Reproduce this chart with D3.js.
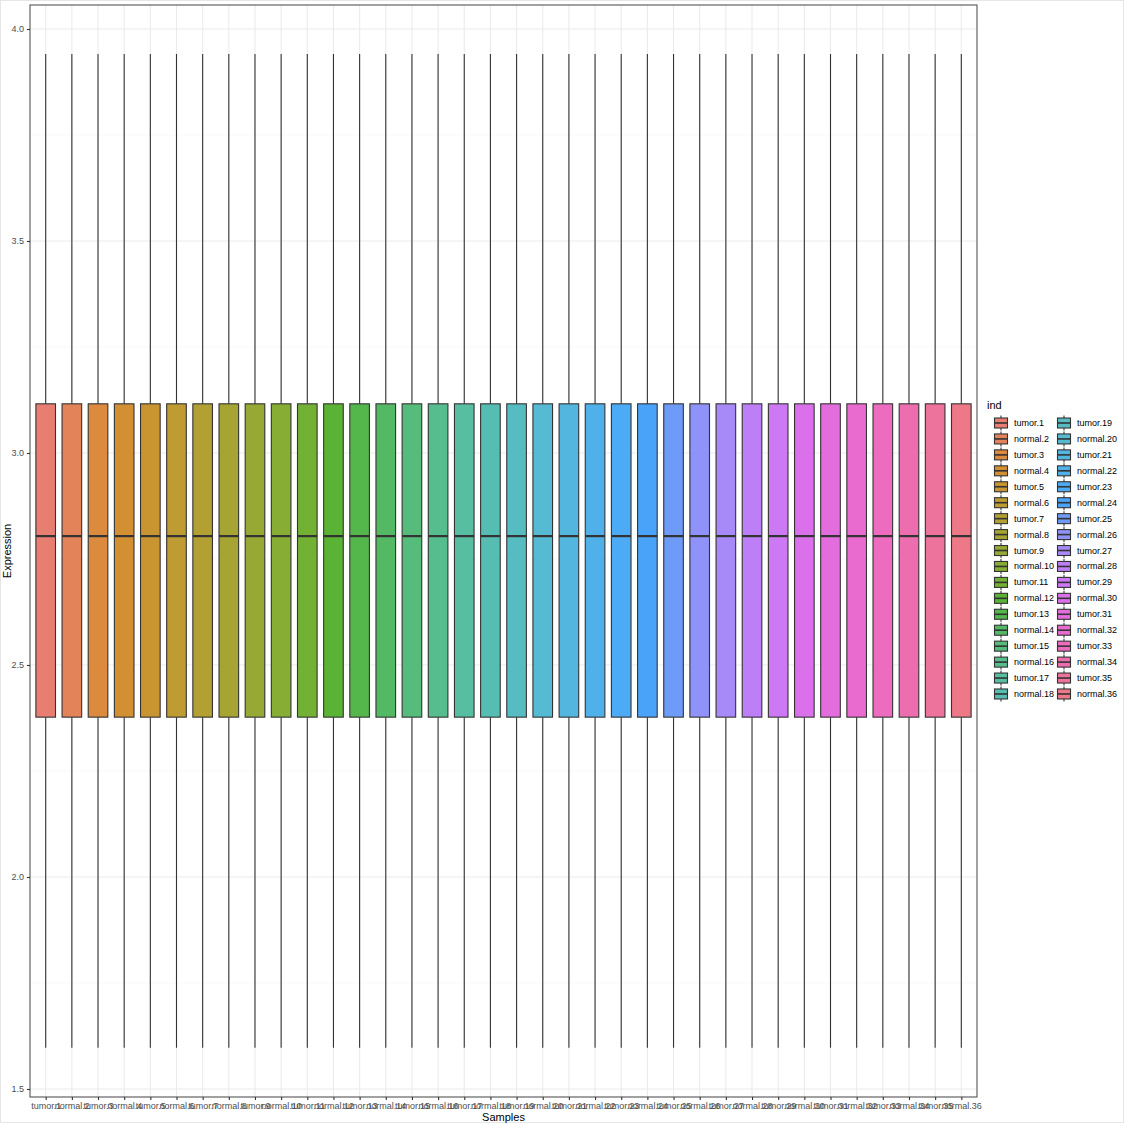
<!DOCTYPE html>
<html><head><meta charset="utf-8">
<script src="https://cdn.jsdelivr.net/npm/d3@7"></script>
<style>body{margin:0;background:#fff}svg{display:block}text{font-family:"Liberation Sans",Arial,sans-serif}</style>
</head><body><svg id="c" width="1124" height="1123"></svg>
<script>
const samples = ["tumor.1","normal.2","tumor.3","normal.4","tumor.5","normal.6","tumor.7","normal.8","tumor.9","normal.10","tumor.11","normal.12","tumor.13","normal.14","tumor.15","normal.16","tumor.17","normal.18","tumor.19","normal.20","tumor.21","normal.22","tumor.23","normal.24","tumor.25","normal.26","tumor.27","normal.28","tumor.29","normal.30","tumor.31","normal.32","tumor.33","normal.34","tumor.35","normal.36"];
const whiskerLow = Array(36).fill(1.597);
const q1 = Array(36).fill(2.377);
const median = Array(36).fill(2.804);
const q3 = Array(36).fill(3.116);
const whiskerHigh = Array(36).fill(3.941);
const yTicks = [1.5, 2.0, 2.5, 3.0, 3.5, 4.0];
const yMinor = [1.75, 2.25, 2.75, 3.25, 3.75];

// ggplot2 hue palette (polarLUV -> sRGB), then as rendered in the reference (P3-tagged screenshot)
function hclLuv(h, c, l) {
  const Xn = 95.047, Yn = 100.0, Zn = 108.883;
  const hr = h * Math.PI / 180;
  const U = c * Math.cos(hr), V = c * Math.sin(hr);
  const Y = Yn * (l > 8 ? Math.pow((l + 16) / 116, 3) : l / 903.3);
  const t = Xn + Yn + Zn;
  const x = Xn / t, y = Yn / t;
  const un = 2 * x / (6 * y - x + 1.5), vn = 4.5 * y / (6 * y - x + 1.5);
  const u = U / (13 * l) + un, v = V / (13 * l) + vn;
  const X = 9.0 * Y * u / (4 * v);
  const Z = -X / 3 - 5 * Y + 3 * Y / v;
  const clamp = c => Math.max(0, Math.min(1, c));
  const lr = clamp((3.240479 * X - 1.537150 * Y - 0.498535 * Z) / 100);
  const lg = clamp((-0.969256 * X + 1.875992 * Y + 0.041556 * Z) / 100);
  const lb = clamp((0.055648 * X - 0.204043 * Y + 1.057311 * Z) / 100);
  // ggplot gamma-encodes to sRGB 0..255 (rounded)
  const enc = c => c > 0.0031308 ? 1.055 * Math.pow(c, 1 / 2.4) - 0.055 : 12.92 * c;
  const dec = c => c > 0.04045 ? Math.pow((c + 0.055) / 1.055, 2.4) : c / 12.92;
  const r8 = Math.round(255 * enc(lr)) / 255, g8 = Math.round(255 * enc(lg)) / 255, b8 = Math.round(255 * enc(lb)) / 255;
  const R = dec(r8), G = dec(g8), B = dec(b8);
  const pr = 0.8225 * R + 0.1774 * G;
  const pg = 0.0332 * R + 0.9669 * G;
  const pb = 0.0171 * R + 0.0724 * G + 0.9108 * B;
  return d3.rgb(Math.round(255 * enc(clamp(pr))), Math.round(255 * enc(clamp(pg))), Math.round(255 * enc(clamp(pb)))).formatHex();
}
const colors = samples.map((s, i) => hclLuv(15 + 360 * i / 36, 100, 65));

const svg = d3.select("#c");
svg.append("rect").attr("x",0.5).attr("y",0.5).attr("width",1123).attr("height",1122).attr("fill","#fff").attr("stroke","#e6e6e6");

const P = {l: 30, r: 977, t: 5, b: 1097};
const xp = d3.scalePoint().domain(samples).range([P.l, P.r]).padding(0.6);
const step = xp.step();
const bw = step * 0.75;
const y = d3.scaleLinear().domain([1.5, 4.0]).range([1089, 29]);

const g = svg.append("g");
g.append("rect").attr("x",P.l).attr("y",P.t).attr("width",P.r-P.l).attr("height",P.b-P.t).attr("fill","#fff");
g.selectAll(".ymin").data(yMinor).join("line").attr("x1",P.l).attr("x2",P.r).attr("y1",d=>y(d)).attr("y2",d=>y(d)).attr("stroke","#F5F5F5").attr("stroke-width",0.6);
g.selectAll(".ymaj").data(yTicks).join("line").attr("x1",P.l).attr("x2",P.r).attr("y1",d=>y(d)).attr("y2",d=>y(d)).attr("stroke","#EBEBEB").attr("stroke-width",1.1);
g.selectAll(".xmaj").data(samples).join("line").attr("y1",P.t).attr("y2",P.b).attr("x1",d=>xp(d)).attr("x2",d=>xp(d)).attr("stroke","#EBEBEB").attr("stroke-width",1.1);

const bx = g.append("g");
samples.forEach((s, i) => {
  const cx = xp(s);
  bx.append("line").attr("x1",cx).attr("x2",cx).attr("y1",y(whiskerHigh[i])).attr("y2",y(q3[i])).attr("stroke","#333333").attr("stroke-width",1.1);
  bx.append("line").attr("x1",cx).attr("x2",cx).attr("y1",y(q1[i])).attr("y2",y(whiskerLow[i])).attr("stroke","#333333").attr("stroke-width",1.1);
  bx.append("rect").attr("x",cx-bw/2).attr("width",bw).attr("y",y(q3[i])).attr("height",y(q1[i])-y(q3[i]))
    .attr("fill",colors[i]).attr("stroke","#333333").attr("stroke-width",1.1);
  bx.append("line").attr("x1",cx-bw/2).attr("x2",cx+bw/2).attr("y1",y(median[i])).attr("y2",y(median[i])).attr("stroke","#333333").attr("stroke-width",2.2);
});

g.append("rect").attr("x",P.l).attr("y",P.t).attr("width",P.r-P.l).attr("height",P.b-P.t).attr("fill","none").attr("stroke","#555555").attr("stroke-width",1.1);

const ya = svg.append("g").attr("transform",`translate(${P.l},0)`)
  .call(d3.axisLeft(y).tickValues(yTicks).tickFormat(d3.format(".1f")).tickSize(3).tickPadding(3));
ya.select(".domain").remove();
ya.selectAll("line").attr("stroke","#333333").attr("stroke-width",1.1);
ya.selectAll("text").attr("fill","#4D4D4D").style("font-size","9px");

const xa = svg.append("g").attr("transform",`translate(0,${P.b})`)
  .call(d3.axisBottom(xp).tickSize(3).tickPadding(3));
xa.select(".domain").remove();
xa.selectAll("line").attr("stroke","#333333").attr("stroke-width",1.1);
xa.selectAll("text").attr("fill","#4D4D4D").style("font-size","9px");

svg.append("text").attr("x",(P.l+P.r)/2).attr("y",1121).attr("text-anchor","middle").style("font-size","11px").attr("fill","#000").text("Samples");
svg.append("text").attr("transform",`translate(11,${(P.t+P.b)/2}) rotate(-90)`).attr("text-anchor","middle").style("font-size","11px").attr("fill","#000").text("Expression");

const L = svg.append("g");
L.append("text").attr("x",987).attr("y",409).style("font-size","11px").attr("fill","#000").text("ind");
const rowH = 15.94, y0 = 423;
samples.forEach((s, i) => {
  const col = Math.floor(i / 18), row = i % 18;
  const kcx = col === 0 ? 1001 : 1064;
  const kcy = y0 + row * rowH;
  const k = L.append("g");
  k.append("line").attr("x1",kcx).attr("x2",kcx).attr("y1",kcy-7.5).attr("y2",kcy+7.5).attr("stroke","#333333").attr("stroke-width",1.1);
  k.append("rect").attr("x",kcx-6.5).attr("y",kcy-5).attr("width",13).attr("height",10).attr("fill",colors[i]).attr("stroke","#333333").attr("stroke-width",1.1);
  k.append("line").attr("x1",kcx-6.5).attr("x2",kcx+6.5).attr("y1",kcy).attr("y2",kcy).attr("stroke","#333333").attr("stroke-width",1.6);
  L.append("text").attr("x",kcx+13).attr("y",kcy+3).style("font-size","9px").attr("fill","#000").text(s);
});
</script></body></html>
